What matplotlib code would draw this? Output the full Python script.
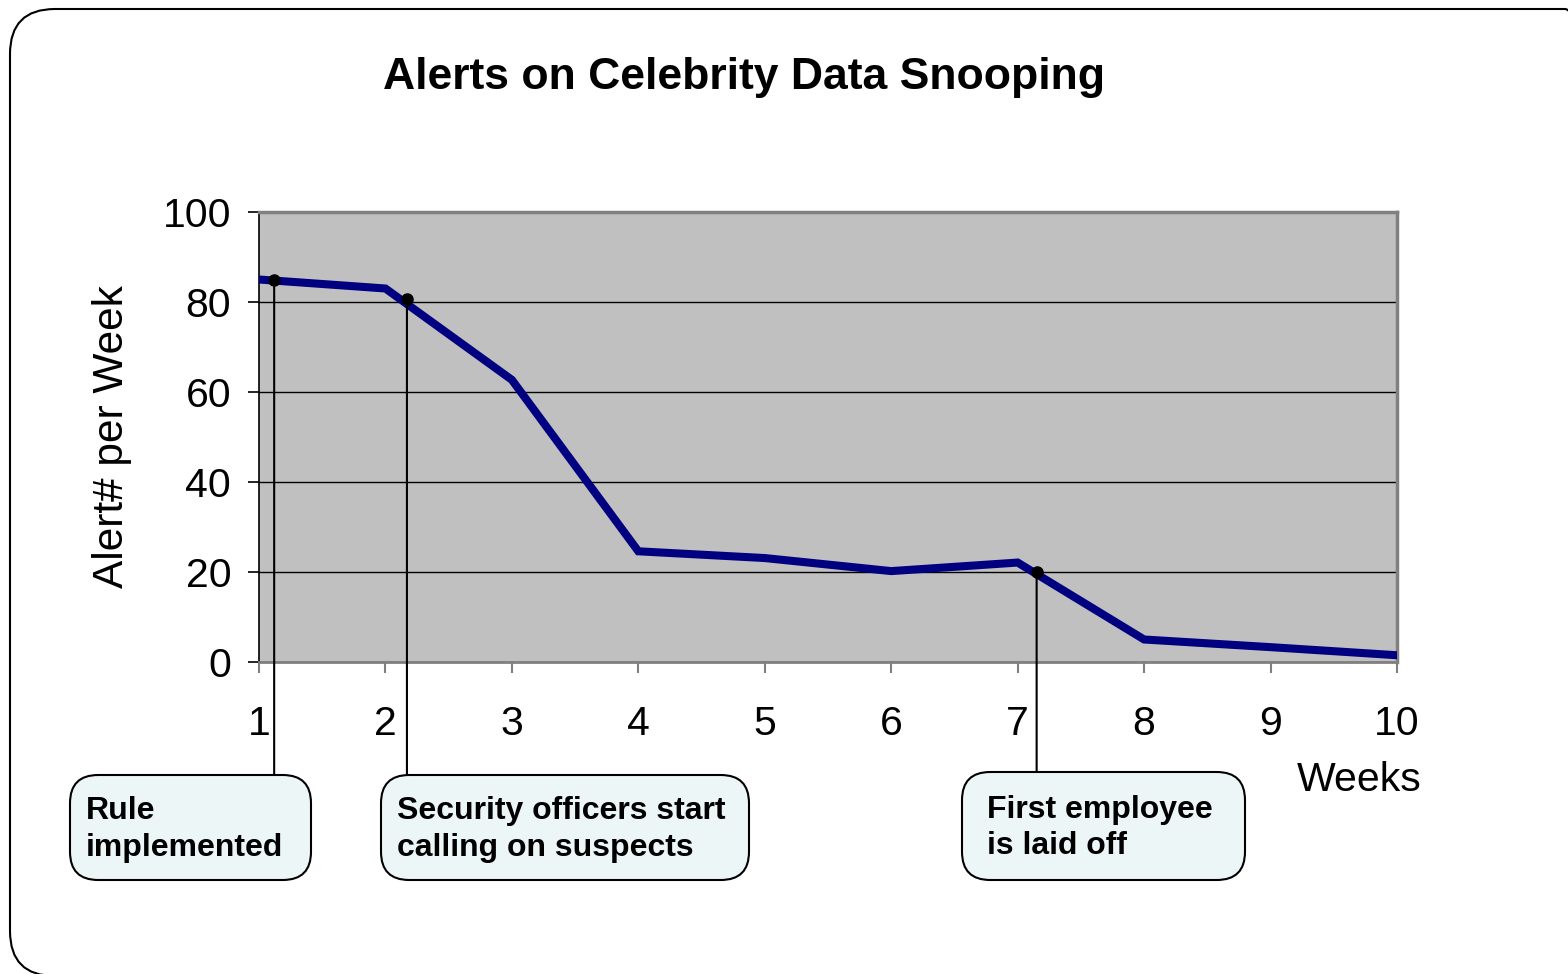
import matplotlib
matplotlib.use("Agg")
import matplotlib.pyplot as plt
from matplotlib.patches import FancyBboxPatch, ConnectionPatch
import matplotlib.transforms as mtransforms

# data
weeks = [1, 2, 3, 4, 5, 6, 7, 8, 9, 10]
alerts = [85, 83, 62.7, 24.6, 23.1, 20.2, 22.1, 5.0, 3.3, 1.5]
y_ticks = [0, 20, 40, 60, 80, 100]

event_labels = ["Rule\nimplemented",
                "Security officers start\ncalling on suspects",
                "First employee\nis laid off"]
event_x = [1.12, 2.17, 7.15]
event_y = [85, 80.6, 20]

# layout of callout boxes, figure pixels (left, top, right, bottom, text inset)
BOXES = [(70, 775, 311, 880, 16), (381, 775, 749, 880, 16),
         (962, 772, 1245, 880, 25)]

W, H, DPI = 1568, 974, 100
NAVY = "#000080"
PLOT_BG = "#C0C0C0"
SPINE_GRAY = "#808080"
BOX_FILL = "#EDF6F7"

plt.rcParams["font.family"] = ["Liberation Sans", "DejaVu Sans"]

fig = plt.figure(figsize=(W / DPI, H / DPI), dpi=DPI)
fig.patch.set_facecolor("white")


def px(x, y):
    """figure pixel (from top-left) -> figure fraction"""
    return x / W, 1 - y / H


# outer rounded frame (runs off right and bottom edge)
frame = FancyBboxPatch((0.10, -0.02), 16.0, 9.65 + 0.02,
                       boxstyle="round,pad=0,rounding_size=0.45",
                       transform=fig.dpi_scale_trans, fill=False,
                       ec="black", lw=1.5, zorder=0)
fig.patches.append(frame)

x0, y0 = px(259, 662)
x1, y1 = px(1397, 212)
ax = fig.add_axes([x0, y0, x1 - x0, y1 - y0])
ax.set_facecolor(PLOT_BG)

ax.plot(weeks, alerts, color=NAVY, lw=5.8, solid_joinstyle="miter",
        solid_capstyle="round", zorder=3)

ax.set_xlim(1, 10)
ax.set_ylim(0, 100)
ax.set_xticks(weeks)
ax.set_yticks(y_ticks)
ax.grid(axis="y", color="black", lw=1.0)
ax.set_axisbelow(True)

for s in ("top", "right"):
    ax.spines[s].set_color(SPINE_GRAY)
    ax.spines[s].set_linewidth(2.5)
ax.spines["bottom"].set_color(SPINE_GRAY)
ax.spines["bottom"].set_linewidth(2.0)
ax.spines["left"].set_color("black")
ax.spines["left"].set_linewidth(1.2)

ax.tick_params(axis="y", direction="out", length=8, width=1.2, color="black",
               labelsize=29.5, pad=12)
ax.tick_params(axis="x", direction="out", length=8, width=1.5, color=SPINE_GRAY,
               labelsize=29.5, pad=23)

ax.set_ylabel("Alert# per Week", fontsize=30.5, labelpad=22)
ax.text(0.967, -0.262, "Weeks", transform=ax.transAxes, fontsize=29.5,
        ha="center", va="center")

fig.text(*px(744, 78), "Alerts on Celebrity Data Snooping", fontsize=32,
         fontweight="bold", ha="center", va="center")

# callouts
blend = mtransforms.blended_transform_factory(ax.transData, fig.transFigure)
for label, ex, ey, (bl, bt, br, bb, inset) in zip(event_labels, event_x,
                                                   event_y, BOXES):
    ax.plot([ex], [ey], "o", color="black", ms=8, zorder=5, clip_on=False)
    con = ConnectionPatch(xyA=(ex, ey), coordsA=ax.transData,
                          xyB=(ex, 1 - bt / H), coordsB=blend,
                          color="black", lw=1.5, zorder=4)
    fig.add_artist(con)
    fl, fb = px(bl, bb)
    fr, ft = px(br, bt)
    box = FancyBboxPatch((fl, fb), fr - fl, ft - fb,
                         boxstyle="round,pad=0,rounding_size=0.018",
                         mutation_aspect=W / H,
                         transform=fig.transFigure, fc=BOX_FILL, ec="black",
                         lw=1.5, zorder=5)
    fig.patches.append(box)
    tx, ty = px(bl + inset, (bt + bb) / 2 + 2)
    fig.text(tx, ty, label, fontsize=23, fontweight="bold", ha="left",
             va="center", linespacing=1.3, zorder=6)

fig.savefig("out.png", dpi=DPI, facecolor="white")
